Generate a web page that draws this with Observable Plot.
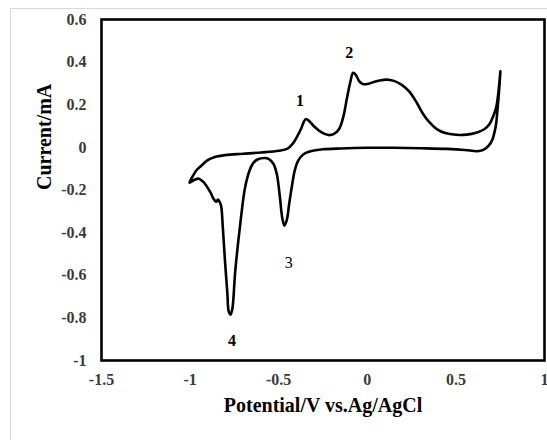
<!DOCTYPE html>
<html>
<head>
<meta charset="utf-8">
<script src="https://cdn.jsdelivr.net/npm/d3@7"></script>
<script src="https://cdn.jsdelivr.net/npm/@observablehq/plot@0.6"></script>
<style>
  html, body { margin: 0; padding: 0; background: #fff; }
  #wrap { position: relative; width: 547px; height: 440px; overflow: hidden; }
  #border { position: absolute; left: 10px; top: 8px; width: 600px; height: 500px; border: 1px solid #d9d9d9; }
  #chart { position: absolute; left: 0; top: 0; }
  #chart svg text { font-family: 'Liberation Serif', 'Times New Roman', serif; }
  #chart svg g[aria-label="x-axis tick label"] text,
  #chart svg g[aria-label="y-axis tick label"] text { font-weight: bold; font-size: 16px; fill: #3a3a3a; }
  #chart svg g[aria-label="sans-label"] text { font-family: 'Liberation Sans', Arial, sans-serif; }
</style>
</head>
<body>
<div id="wrap"><div id="border"></div><div id="chart"></div></div>
<script>
// Cyclic voltammogram: cathodic sweep (from +0.75 V to -1.0 V) then anodic sweep back
const potential = [
  0.751, 0.745, 0.735, 0.725, 0.705, 0.685, 0.655, 0.62, 0.55, 0.45, 0.3, 0.15, 0.0,
  -0.15, -0.25, -0.32, -0.36, -0.39, -0.41, -0.425, -0.44, -0.455, -0.468, -0.48, -0.495,
  -0.511, -0.53, -0.555, -0.58, -0.62, -0.645, -0.665, -0.69, -0.717, -0.745, -0.762,
  -0.772, -0.782, -0.79, -0.802, -0.815, -0.825, -0.835, -0.843, -0.852, -0.865, -0.886,
  -0.924, -0.95, -0.975, -1.003,
  -0.985, -0.962, -0.935, -0.905, -0.86, -0.80, -0.70, -0.60, -0.50, -0.45, -0.42, -0.40,
  -0.375, -0.355, -0.345, -0.33, -0.30, -0.26, -0.22, -0.19, -0.16, -0.135, -0.115, -0.095,
  -0.08, -0.065, -0.045, -0.025, 0.0, 0.03, 0.07, 0.11, 0.15, 0.185, 0.215, 0.24, 0.28,
  0.315, 0.35, 0.39, 0.44, 0.50, 0.56, 0.615, 0.66, 0.69, 0.71, 0.728, 0.74, 0.751
];
const current = [
  0.357, 0.28, 0.18, 0.10, 0.035, 0.008, -0.012, -0.018, -0.012, -0.007, -0.004, -0.002, -0.002,
  -0.005, -0.009, -0.018, -0.032, -0.062, -0.11, -0.18, -0.26, -0.343, -0.367, -0.33, -0.22,
  -0.124, -0.077, -0.055, -0.05, -0.057, -0.075, -0.11, -0.19, -0.36, -0.578, -0.76,
  -0.785, -0.77, -0.68, -0.547, -0.38, -0.275, -0.253, -0.245, -0.255, -0.245, -0.21,
  -0.163, -0.147, -0.152, -0.166,
  -0.135, -0.105, -0.085, -0.062, -0.045, -0.036, -0.030, -0.024, -0.016, -0.006, 0.018, 0.045,
  0.085, 0.125, 0.133, 0.125, 0.098, 0.072, 0.058, 0.062, 0.085, 0.145, 0.23, 0.31,
  0.35, 0.34, 0.31, 0.297, 0.297, 0.305, 0.314, 0.318, 0.312, 0.298, 0.28, 0.259, 0.208,
  0.157, 0.118, 0.087, 0.067, 0.059, 0.060, 0.069, 0.085, 0.110, 0.145, 0.19, 0.26, 0.357
];

const xTicks = [-1.5, -1, -0.5, 0, 0.5, 1];
const yTicks = [-1, -0.8, -0.6, -0.4, -0.2, 0, 0.2, 0.4, 0.6];

const peakLabels = ["1", "2", "3", "4"];
const peakLabelX = [-0.38, -0.102, -0.443, -0.764];
const peakLabelY = [0.217, 0.442, -0.543, -0.906];
const peakLabelBold = [true, true, false, true];

const xTitle = "Potential/V vs.Ag/AgCl";
const yTitle = "Current/mA";

const cv = potential.map((p, i) => ({p, c: current[i]}));
const peaks = peakLabels.map((t, i) => ({t, x: peakLabelX[i], y: peakLabelY[i], bold: peakLabelBold[i]}));
const fmt = d => String(d);

const serif = "'Liberation Serif', 'Times New Roman', serif";

const chart = Plot.plot({
  width: 547,
  height: 440,
  marginLeft: 101,
  marginRight: 3,
  marginTop: 19,
  marginBottom: 80,
  style: {background: "transparent", fontFamily: serif},
  x: {domain: [-1.5, 1]},
  y: {domain: [-1, 0.6]},
  marks: [
    Plot.axisX({ticks: xTicks, tickFormat: fmt, tickSize: 0, tickPadding: 13, label: null,
      fontSize: 16, fontWeight: "bold", fill: "#3a3a3a"}),
    Plot.axisY({ticks: yTicks, tickFormat: fmt, tickSize: 0, tickPadding: 15, label: null,
      fontSize: 16, fontWeight: "bold", fill: "#3a3a3a"}),
    Plot.line(cv, {x: "p", y: "c", curve: "catmull-rom", stroke: "black", strokeWidth: 2.6,
      strokeLinejoin: "round", strokeLinecap: "round"}),
    Plot.text(peaks.filter(d => d.bold), {x: "x", y: "y", text: "t", fontSize: 16, fontWeight: "bold",
      fill: "black"}),
    Plot.text(peaks.filter(d => !d.bold), {x: "x", y: "y", text: "t", fontSize: 16,
      fill: "black", ariaLabel: "sans-label"}),
    Plot.frame({stroke: "black", strokeWidth: 2.6}),
    Plot.text([xTitle], {frameAnchor: "bottom", lineAnchor: "middle", dy: 45, fontSize: 20,
      fontWeight: "bold", fill: "black"}),
    Plot.text([yTitle], {frameAnchor: "left", rotate: -90, dx: -57, fontSize: 20,
      fontWeight: "bold", fill: "black"})
  ]
});
document.getElementById("chart").appendChild(chart);
</script>
</body>
</html>
